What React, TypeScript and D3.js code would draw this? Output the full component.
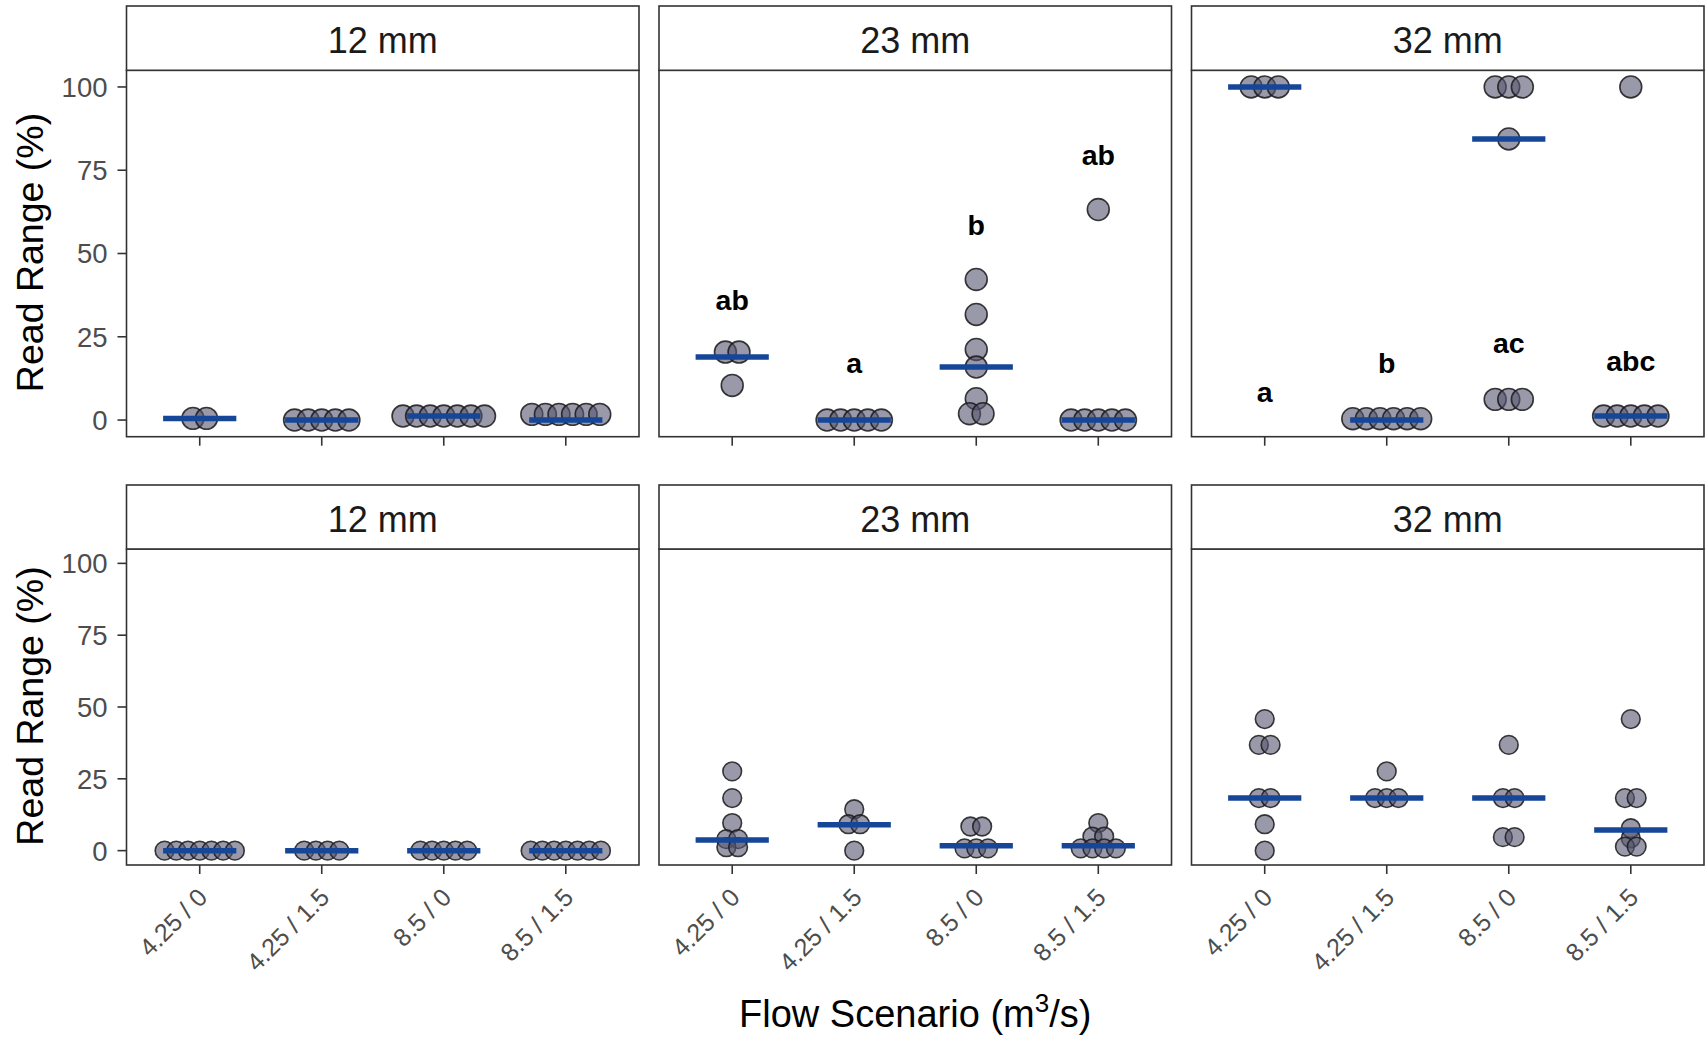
import React from "react";
import * as d3 from "d3";

// ---------- data ----------
const flowScenarios = ["4.25 / 0", "4.25 / 1.5", "8.5 / 0", "8.5 / 1.5"];
const sizes = ["12 mm", "23 mm", "32 mm"];
const yTicks = [0, 25, 50, 75, 100];

// top row: individual observations per flow scenario
const top12mm = [[0.5, 0.5], [0, 0, 0, 0, 0], [1.2, 1.2, 1.2, 1.2, 1.2, 1.2, 1.2], [1.7, 1.7, 1.7, 1.7, 1.7, 1.7]];
const top23mm = [[20.4, 20.4, 10.4], [0, 0, 0, 0, 0], [42.2, 31.7, 21.2, 15.9, 6.4, 1.9, 1.9], [63.2, 0, 0, 0, 0, 0]];
const top32mm = [[100, 100, 100], [0.4, 0.4, 0.4, 0.4, 0.4, 0.4], [100, 100, 100, 84.4, 6.2, 6.2, 6.2], [100, 1.2, 1.2, 1.2, 1.2, 1.2]];
const topMedians12mm = [0.5, 0, 1.2, 0];
const topMedians23mm = [18.9, 0, 15.9, 0];
const topMedians32mm = [100, 0, 84.4, 1.2];
const topLetters23mm = ["ab", "a", "b", "ab"];
const topLetterY23mm = [33, 14.2, 55.5, 76.7];
const topLetters32mm = ["a", "b", "ac", "abc"];
const topLetterY32mm = [5.4, 14.2, 20.2, 14.7];

// bottom row
const bottom12mm = [[0, 0, 0, 0, 0, 0, 0], [0, 0, 0, 0], [0, 0, 0, 0, 0], [0, 0, 0, 0, 0, 0, 0]];
const bottom23mm = [[27.6, 18.3, 9.6, 4, 4, 1.2, 1.2], [14.4, 9.2, 9.2, 0], [8.4, 8.4, 0.8, 0.8, 0.8], [9.6, 4.9, 4.9, 0.8, 0.8, 0.8, 0.8]];
const bottom32mm = [[45.8, 36.8, 36.8, 18.3, 18.3, 9.2, 0], [27.6, 18.3, 18.3, 18.3], [36.8, 18.3, 18.3, 4.7, 4.7], [45.8, 18.3, 18.3, 7.8, 4.3, 1.4, 1.4]];
const bottomMedians12mm = [0, 0, 0, 0];
const bottomMedians23mm = [3.7, 9.0, 1.7, 1.7];
const bottomMedians32mm = [18.3, 18.3, 18.3, 7.2];

// ---------- layout ----------
const W = 1705;
const H = 1040;
const FONT = "'Liberation Sans', Arial, Helvetica, sans-serif";
const colLeft = 126.5;
const panelW = 512.5;
const gap = 20;
const tickLen = 9;
const dotDiamUnits = 6.8;

const rows = [
  {
    stripTop: 6, top: 70.3, bottom: 436.7,
    points: [top12mm, top23mm, top32mm],
    medians: [topMedians12mm, topMedians23mm, topMedians32mm],
    letters: [null, { labels: topLetters23mm, y: topLetterY23mm }, { labels: topLetters32mm, y: topLetterY32mm }],
    xLabels: false,
  },
  {
    stripTop: 485, top: 549, bottom: 865,
    points: [bottom12mm, bottom23mm, bottom32mm],
    medians: [bottomMedians12mm, bottomMedians23mm, bottomMedians32mm],
    letters: [null, null, null],
    xLabels: true,
  },
];

function layoutDots(values: number[]) {
  const counts = new Map<number, number>();
  values.forEach((v) => counts.set(v, (counts.get(v) || 0) + 1));
  const seen = new Map<number, number>();
  return values.map((v) => {
    const k = seen.get(v) || 0;
    seen.set(v, k + 1);
    return { v, k, n: counts.get(v) as number };
  });
}

export default function App() {
  const els: React.ReactNode[] = [];
  rows.forEach((row, ri) => {
    const y = d3.scaleLinear().domain([-5, 105]).range([row.bottom, row.top]);
    const r = (y(0) - y(dotDiamUnits)) / 2;
    const spacing = 0.6 * 2 * r;
    sizes.forEach((size, ci) => {
      const left = colLeft + ci * (panelW + gap);
      const right = left + panelW;
      const x = d3.scalePoint<string>().domain(flowScenarios).range([left, right]).padding(0.6);
      const step = x.step();
      const key = `${ri}-${ci}`;
      els.push(<rect key={`bg${key}`} x={left} y={row.top} width={panelW} height={row.bottom - row.top} fill="white" />);
      // points
      flowScenarios.forEach((fs, fi) => {
        const cx0 = x(fs) as number;
        layoutDots(row.points[ci][fi]).forEach((d, di) => {
          els.push(
            <circle key={`p${key}-${fi}-${di}`} cx={cx0 + (d.k - (d.n - 1) / 2) * spacing} cy={y(d.v)} r={r - 0.4}
              fill="#55556f" fillOpacity={0.6} stroke="#1a1a1a" strokeOpacity={0.85} strokeWidth={1.6} />
          );
        });
      });
      // medians
      flowScenarios.forEach((fs, fi) => {
        const cx0 = x(fs) as number;
        const m = row.medians[ci][fi];
        els.push(
          <line key={`m${key}-${fi}`} x1={cx0 - 0.3 * step} x2={cx0 + 0.3 * step} y1={y(m)} y2={y(m)}
            stroke="#164697" strokeWidth={5.5} />
        );
      });
      // letters
      const lt = row.letters[ci];
      if (lt) {
        flowScenarios.forEach((fs, fi) => {
          els.push(
            <text key={`l${key}-${fi}`} x={x(fs) as number} y={y(lt.y[fi])} textAnchor="middle"
              fontFamily={FONT} fontWeight="bold" fontSize={28.5} fill="#000">{lt.labels[fi]}</text>
          );
        });
      }
      // panel border
      els.push(<rect key={`bd${key}`} x={left} y={row.top} width={panelW} height={row.bottom - row.top} fill="none" stroke="#333333" strokeWidth={1.6} />);
      // strip
      els.push(<rect key={`st${key}`} x={left} y={row.stripTop} width={panelW} height={row.top - row.stripTop} fill="white" stroke="#333333" strokeWidth={1.6} />);
      els.push(
        <text key={`stt${key}`} x={(left + right) / 2} y={row.stripTop + 46.5} textAnchor="middle" fontFamily={FONT} fontSize={36} fill="#1A1A1A">{size}</text>
      );
      // x ticks
      flowScenarios.forEach((fs, fi) => {
        const tx = x(fs) as number;
        els.push(<line key={`xt${key}-${fi}`} x1={tx} x2={tx} y1={row.bottom} y2={row.bottom + tickLen} stroke="#333333" strokeWidth={1.6} />);
        if (row.xLabels) {
          els.push(
            <text key={`xl${key}-${fi}`} transform={`translate(${tx + 9},${row.bottom + 34}) rotate(-45)`} textAnchor="end"
              fontFamily={FONT} fontSize={25} fill="#4D4D4D">{fs}</text>
          );
        }
      });
      // y axis for first column
      if (ci === 0) {
        yTicks.forEach((t) => {
          els.push(<line key={`yt${key}-${t}`} x1={left - tickLen} x2={left} y1={y(t)} y2={y(t)} stroke="#333333" strokeWidth={1.6} />);
          els.push(
            <text key={`yl${key}-${t}`} x={left - tickLen - 10} y={y(t)} dy="0.36em" textAnchor="end" fontFamily={FONT} fontSize={27.5} fill="#4D4D4D">{t}</text>
          );
        });
        els.push(
          <text key={`yti${key}`} transform={`translate(43,${(row.top + row.bottom) / 2 - 1}) rotate(-90)`} textAnchor="middle"
            fontFamily={FONT} fontSize={37.5} fill="#000">Read Range (%)</text>
        );
      }
    });
  });

  const xTitleCenter = (colLeft + colLeft + 3 * panelW + 2 * gap) / 2;
  return (
    <svg width={W} height={H} style={{ position: "absolute", left: 0, top: 0, background: "white" }}>
      <rect x={0} y={0} width={W} height={H} fill="white" />
      {els}
      <text x={xTitleCenter} y={1026.7} textAnchor="middle" fontFamily={FONT} fontSize={38} fill="#000">
        Flow Scenario (m<tspan fontSize={26} dy={-15}>3</tspan><tspan dy={15}>/s)</tspan>
      </text>
    </svg>
  );
}
